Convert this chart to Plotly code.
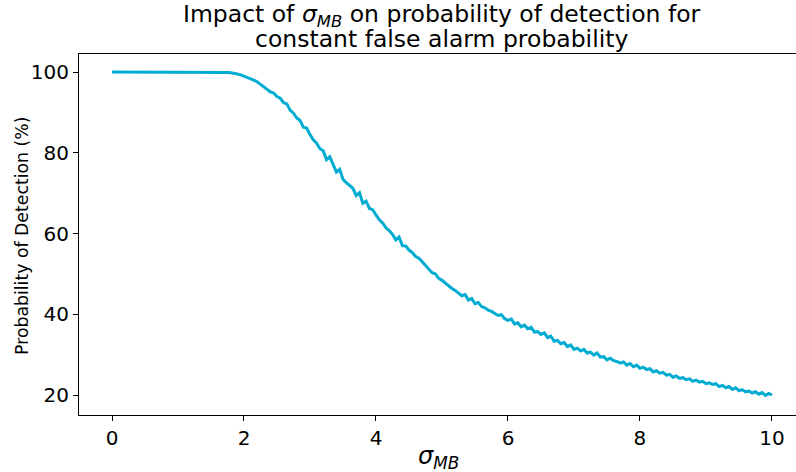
import plotly.graph_objects as go

# Probability of detection (%) sampled every 0.05 in sigma_MB from 0 to 10
pd_flat = [100.0] * 35  # sigma 0.00 .. 1.70
pd_tail = [
    99.9, 99.8, 99.7, 99.5, 99.3, 99.0,
    98.8, 98.4, 98.0, 97.6, 96.9, 96.3, 95.7, 95.1, 94.8, 93.9,
    93.5, 92.4, 92.1, 90.5, 89.8, 88.6, 88.0, 86.3, 86.1, 84.5,
    83.2, 82.4, 81.0, 80.5, 78.3, 79.0, 76.9, 75.2, 75.9, 73.4,
    72.6, 71.8, 71.2, 69.4, 70.1, 67.5, 68.0, 66.2, 65.9, 64.6,
    63.4, 62.6, 61.4, 60.7, 59.8, 58.4, 59.1, 57.0, 56.9, 55.9,
    55.3, 54.3, 53.9, 53.0, 52.1, 51.4, 50.3, 50.0, 48.9, 48.4,
    47.7, 47.2, 46.4, 45.9, 45.2, 44.6, 44.9, 43.5, 43.9, 42.6,
    42.9, 41.9, 41.6, 41.0, 40.7, 40.3, 39.7, 39.9, 38.9, 38.5,
    38.8, 37.6, 37.9, 36.9, 37.3, 36.4, 36.8, 35.6, 35.7, 35.0,
    35.4, 34.2, 34.6, 33.3, 33.5, 32.7, 33.0, 32.0, 32.4, 31.3,
    31.6, 30.9, 31.3, 30.4, 30.6, 29.9, 30.4, 29.4, 29.5, 28.7,
    29.1, 28.5, 28.3, 27.9, 28.2, 27.4, 27.8, 27.0, 27.4, 26.6,
    26.9, 26.3, 26.5, 25.7, 26.0, 25.4, 25.6, 24.9, 25.1, 24.4,
    24.7, 24.1, 24.3, 23.8, 24.0, 23.4, 23.7, 23.2, 23.4, 22.8,
    23.0, 22.6, 22.8, 22.1, 22.4, 21.8, 22.1, 21.4, 21.8, 21.1,
    21.3, 20.8, 21.0, 20.5, 20.8, 20.2, 20.6, 19.9, 20.4, 20.0,
]
prob_detection = pd_flat + pd_tail
sigma_mb = [round(i * 0.05, 2) for i in range(len(prob_detection))]

x_ticks = [0, 2, 4, 6, 8, 10]
y_ticks = [20, 40, 60, 80, 100]

FONT = "DejaVu Sans"

fig = go.Figure()
fig.add_trace(go.Scatter(
    x=sigma_mb, y=prob_detection, mode="lines",
    line=dict(color="#00acd1", width=3),
    showlegend=False,
))

fig.update_layout(
    width=796, height=472,
    margin=dict(l=79, r=0, t=54, b=57, pad=0),
    paper_bgcolor="white", plot_bgcolor="white",
    font=dict(family=FONT, color="black"),
    xaxis=dict(
        range=[-0.5, 10.364], tickvals=x_ticks,
        showgrid=False, zeroline=False,
        showline=True, linecolor="black", linewidth=1.2, mirror=True,
        ticks="outside", ticklen=5, tickcolor="black",
        tickfont=dict(size=20, family=FONT),
    ),
    yaxis=dict(
        range=[15.05, 104.46], tickvals=y_ticks,
        showgrid=False, zeroline=False,
        showline=True, linecolor="black", linewidth=1.2,
        ticks="outside", ticklen=5, tickcolor="black",
        tickfont=dict(size=20, family=FONT),
    ),
    annotations=[
        dict(text="Impact of <i>σ</i><sub><i>MB</i></sub> on probability of detection for",
             xref="paper", yref="paper", x=0.506, y=1, xanchor="center", yanchor="bottom",
             yshift=21, showarrow=False, font=dict(size=23.5, family=FONT)),
        dict(text="constant false alarm probability",
             xref="paper", yref="paper", x=0.506, y=1, xanchor="center", yanchor="bottom",
             yshift=-1, showarrow=False, font=dict(size=23.5, family=FONT)),
        dict(text="<i>σ</i><sub><i>MB</i></sub>",
             xref="paper", yref="paper", x=0.501, y=0, xanchor="center", yanchor="middle",
             yshift=-42, showarrow=False, font=dict(size=24, family=FONT)),
        dict(text="Probability of Detection (%)", textangle=-90,
             xref="paper", yref="paper", x=0, y=0.496, xanchor="center", yanchor="middle",
             xshift=-57, showarrow=False, font=dict(size=17.3, family=FONT)),
    ],
)

fig.write_html(
    "out.html",
    config={"displayModeBar": False},
    post_script="document.body.style.margin='0';document.body.style.overflow='hidden';",
)
